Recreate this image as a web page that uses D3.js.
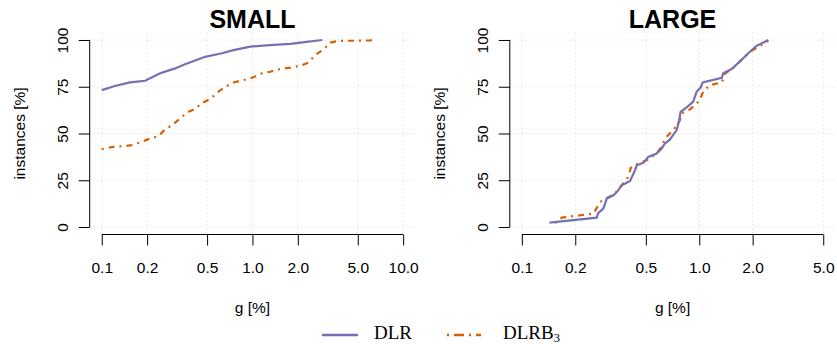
<!DOCTYPE html>
<html>
<head>
<meta charset="utf-8">
<script src="https://cdn.jsdelivr.net/npm/d3@7"></script>
<style>
  body { margin: 0; background: #fff; }
  svg { display: block; }
  text { font-family: "Liberation Sans", Arial, sans-serif; fill: #000; }
</style>
</head>
<body>
<svg id="chart" width="837" height="344"></svg>
<script>
// g [%] vs cumulative instances [%]
const smallDLR = [
  [0.1, 73.2], [0.122, 75.4], [0.154, 77.3], [0.194, 78.2], [0.244, 82.2],
  [0.307, 84.8], [0.357, 87], [0.485, 91], [0.627, 92.9], [0.749, 94.6],
  [0.967, 96.4], [1.31, 97.3], [1.78, 97.9], [2.08, 98.6], [2.9, 100]
];
const smallDLRB3 = [
  [0.1, 41.6], [0.116, 42.7], [0.154, 43.6], [0.18, 45.2], [0.204, 47],
  [0.238, 48.6], [0.263, 52.2], [0.294, 54.5], [0.327, 57.7], [0.367, 61.1],
  [0.417, 63.2], [0.466, 66.4], [0.532, 68.8], [0.59, 72.1], [0.66, 75],
  [0.75, 77.3], [0.873, 78.6], [0.993, 79.8], [1.157, 82.2], [1.31, 83],
  [1.53, 84.5], [1.78, 85.2], [2.08, 86.2], [2.36, 88], [2.61, 92],
  [2.97, 95], [3.29, 98.6], [3.73, 99.5], [4.35, 99.6], [5.07, 99.6],
  [6.07, 99.8], [6.3, 100]
];
const largeDLR = [
  [0.143, 2.3], [0.264, 5], [0.27, 7.5], [0.288, 9.9], [0.301, 15.2],
  [0.328, 17], [0.343, 18.7], [0.366, 22.3], [0.407, 24.6], [0.435, 30.4],
  [0.444, 33], [0.484, 34.3], [0.516, 37.5], [0.575, 39.3], [0.614, 42],
  [0.641, 44.7], [0.684, 46.8], [0.746, 51.8], [0.771, 57.1], [0.785, 61.6],
  [0.849, 64], [0.925, 67], [0.966, 72.3], [1.02, 74.7], [1.045, 77.3],
  [1.34, 79.8], [1.365, 82.2], [1.52, 84.5], [1.69, 88.4], [1.89, 92.9],
  [2.1, 96.8], [2.45, 100]
];
const largeDLRB3 = [
  [0.154, 2.1], [0.168, 5], [0.253, 7.2], [0.27, 11.6], [0.276, 13.4],
  [0.335, 17.9], [0.398, 26.8], [0.411, 31.6], [0.444, 33.6], [0.506, 35.7],
  [0.575, 39.3], [0.614, 43], [0.641, 47.3], [0.714, 51.8], [0.778, 57.1],
  [0.794, 60.7], [0.887, 62.9], [0.946, 65.2], [1.0, 67.5], [1.053, 72.3],
  [1.148, 75.9], [1.34, 77.3], [1.4, 82.2], [1.55, 84.8], [1.69, 88.4],
  [1.93, 93.7], [2.2, 96.8], [2.45, 99.6]
];

const xTicksSmall = [0.1, 0.2, 0.5, 1, 2, 5, 10];
const xTicksLarge = [0.1, 0.2, 0.5, 1, 2, 5];
const yTicks = [0, 25, 50, 75, 100];

const colDLR = "#7570B3";
const colDLRB3 = "#D95F02";

const svg = d3.select("#chart");
svg.append("rect").attr("width", 837).attr("height", 344).attr("fill", "#fff");

const plotTop = 32.5, plotBottom = 234.5, plotW = 325.5;
const plotH = plotBottom - plotTop;
const fmt = d3.format(".1f");

function panel(left, title, ticks, dlr, dlrb3) {
  const lo = Math.log10(ticks[0]), hi = Math.log10(ticks[ticks.length - 1]);
  const ext = (hi - lo) * 0.04;
  const x = d3.scaleLog()
    .domain([Math.pow(10, lo - ext), Math.pow(10, hi + ext)])
    .range([0, plotW]);
  const y = d3.scaleLinear().domain([-4, 104]).range([plotH, 0]);

  const g = svg.append("g").attr("transform", "translate(" + left + "," + plotTop + ")");

  // grid
  g.selectAll(".vgrid").data(ticks).enter().append("line")
    .attr("x1", d => x(d)).attr("x2", d => x(d))
    .attr("y1", 0).attr("y2", plotH)
    .attr("stroke", "#d3d3d3").attr("stroke-dasharray", "1,3");
  g.selectAll(".hgrid").data(yTicks).enter().append("line")
    .attr("x1", 0).attr("x2", plotW)
    .attr("y1", d => y(d)).attr("y2", d => y(d))
    .attr("stroke", "#d3d3d3").attr("stroke-dasharray", "1,3");

  // axes
  const xa = g.append("g")
    .attr("transform", "translate(0," + plotH + ")")
    .call(d3.axisBottom(x).tickValues(ticks).tickFormat(fmt).tickSize(11).tickSizeOuter(0));
  xa.select(".domain").remove();
  xa.append("line")
    .attr("x1", x(ticks[0])).attr("x2", x(ticks[ticks.length - 1]))
    .attr("stroke", "#000");
  xa.selectAll("text").attr("y", 38.5).attr("dy", 0)
    .style("font-size", "15.5px").style("font-family", "Liberation Sans, Arial, sans-serif").attr("fill", "#000");
  xa.selectAll(".tick line").attr("stroke", "#000");

  const ya = g.append("g")
    .call(d3.axisLeft(y).tickValues(yTicks).tickSize(11).tickSizeOuter(0));
  ya.select(".domain").remove();
  ya.append("line")
    .attr("y1", y(0)).attr("y2", y(100))
    .attr("stroke", "#000");
  ya.selectAll(".tick line").attr("stroke", "#000");
  ya.selectAll("text")
    .attr("transform", "rotate(-90)")
    .attr("x", 0).attr("y", -21.7).attr("dy", 0)
    .attr("text-anchor", "middle")
    .style("font-size", "15.5px").style("font-family", "Liberation Sans, Arial, sans-serif").attr("fill", "#000");

  // series
  const line = d3.line().x(d => x(d[0])).y(d => y(d[1]));
  g.append("path").datum(dlrb3).attr("d", line)
    .attr("fill", "none").attr("stroke", colDLRB3).attr("stroke-width", 2.2)
    .attr("stroke-dasharray", "2,5,6,5");
  g.append("path").datum(dlr).attr("d", line)
    .attr("fill", "none").attr("stroke", colDLR).attr("stroke-width", 2.2);

  // titles
  svg.append("text").attr("x", left + plotW / 2).attr("y", 28)
    .attr("text-anchor", "middle").style("font-size", "25px").style("font-weight", "bold")
    .text(title);
  svg.append("text").attr("x", left + plotW / 2).attr("y", 313)
    .attr("text-anchor", "middle").style("font-size", "15.5px")
    .text("g [%]");
  svg.append("text")
    .attr("transform", "translate(" + (left - 65) + "," + ((plotTop + plotBottom) / 2) + ") rotate(-90)")
    .attr("text-anchor", "middle").style("font-size", "15.5px")
    .text("instances [%]");
}

panel(89.7, "SMALL", xTicksSmall, smallDLR, smallDLRB3);
panel(509.8, "LARGE", xTicksLarge, largeDLR, largeDLRB3);

// legend
const leg = svg.append("g");
leg.append("line").attr("x1", 322).attr("x2", 358).attr("y1", 335).attr("y2", 335)
  .attr("stroke", colDLR).attr("stroke-width", 2.6);
leg.append("text").attr("x", 374).attr("y", 339)
  .style("font-family", "Liberation Serif, Times New Roman, serif").style("font-size", "19px")
  .text("DLR");
leg.append("line").attr("x1", 447).attr("x2", 481).attr("y1", 335).attr("y2", 335)
  .attr("stroke", colDLRB3).attr("stroke-width", 2.6).attr("stroke-dasharray", "2,5,10,5");
const t2 = leg.append("text").attr("x", 503).attr("y", 339)
  .style("font-family", "Liberation Serif, Times New Roman, serif").style("font-size", "19px");
t2.append("tspan").text("DLRB");
t2.append("tspan").attr("dy", 3).style("font-size", "12.5px").text("3");
</script>
</body>
</html>
